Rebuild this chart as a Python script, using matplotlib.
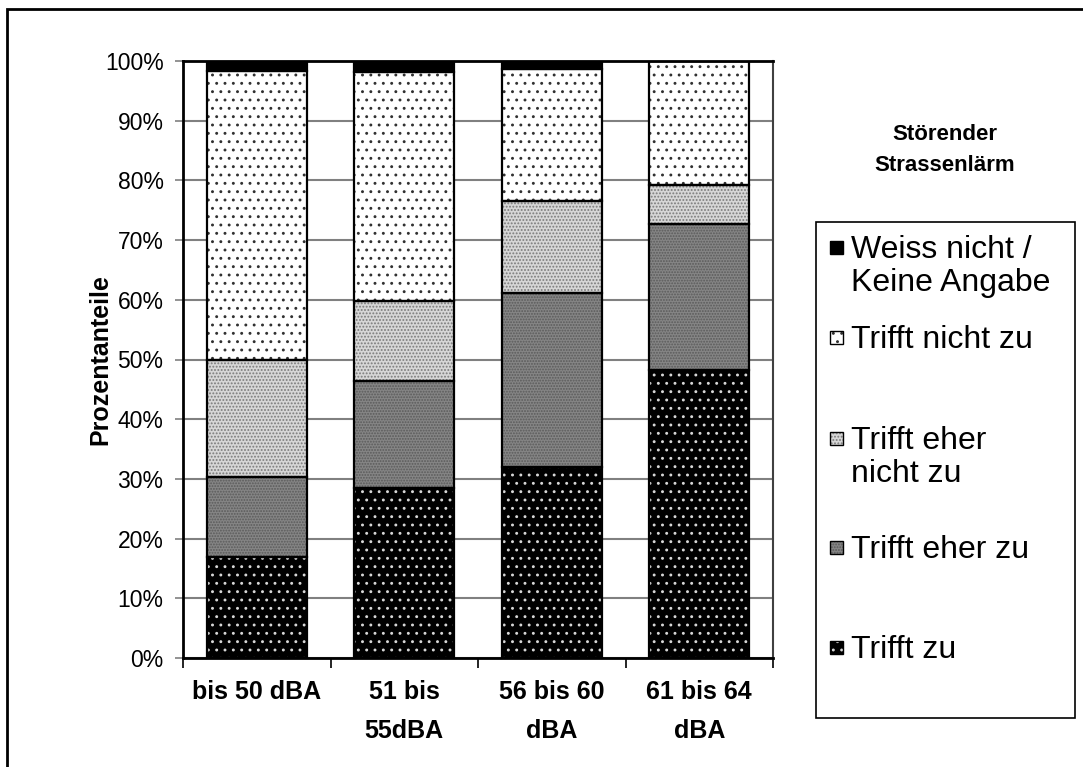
import numpy as np
import matplotlib
matplotlib.use("Agg")
import matplotlib.pyplot as plt
from matplotlib.patches import Rectangle

plt.rcParams['font.family'] = ['Liberation Sans', 'DejaVu Sans']
plt.rcParams['hatch.linewidth'] = 0.9

# Data (percent shares, bottom to top)
CATEGORIES = ["bis 50 dBA", "51 bis\n55dBA", "56 bis 60\ndBA", "61 bis 64\ndBA"]
TRIFFT_ZU        = [16.9, 28.5, 32.0, 48.2]
TRIFFT_EHER_ZU   = [13.4, 17.9, 29.2, 24.5]
EHER_NICHT_ZU    = [19.6, 13.4, 15.4, 6.6]
TRIFFT_NICHT_ZU  = [48.5, 38.3, 22.0, 20.7]
WEISS_NICHT      = [1.6, 1.9, 1.4, 0.0]
SERIES_LABELS = ["Trifft zu", "Trifft eher zu", "Trifft eher\nnicht zu",
                 "Trifft nicht zu", "Weiss nicht /\nKeine Angabe"]
Y_TICKS = np.arange(0, 101, 10)

# Style per series: face colour, hatch colour, hatch
STYLES = [
    ("#000000", "#d8d8d8", ".."),
    ("#858585", "#5a5a5a", "......"),
    ("#d6d6d6", "#7a7a7a", "....."),
    ("#ffffff", "#303030", ".."),
    ("#000000", "#000000", None),
]

fig = plt.figure(figsize=(10.83, 7.67), dpi=100)
ax = fig.add_axes([183/1083, 1 - 658/767, 590/1083, 597/767])

series = [TRIFFT_ZU, TRIFFT_EHER_ZU, EHER_NICHT_ZU, TRIFFT_NICHT_ZU, WEISS_NICHT]
x = np.arange(len(CATEGORIES))
bottom = np.zeros(len(CATEGORIES))
for values, (face, hcol, hatch) in zip(series, STYLES):
    values = np.array(values)
    ax.bar(x, values, 0.68, bottom=bottom, color=face, edgecolor=hcol,
           hatch=hatch, linewidth=0, zorder=2)
    ax.bar(x, values, 0.68, bottom=bottom, fill=False, edgecolor="black",
           linewidth=1.6, zorder=3)
    bottom += values

ax.set_xlim(-0.5, len(CATEGORIES) - 0.5)
ax.set_ylim(0, 100)
ax.set_yticks(Y_TICKS)
ax.set_yticklabels([f"{v}%" for v in Y_TICKS], fontsize=16.5)
ax.yaxis.grid(True, color="#808080", linewidth=1.5, zorder=0)
ax.tick_params(axis="y", length=6, width=1.2, color="#808080", pad=8)

ax.set_xticks(x)
ax.set_xticklabels(CATEGORIES, fontsize=18, fontweight="bold", linespacing=1.8)
ax.set_xticks(np.arange(-0.5, len(CATEGORIES)), minor=True)
ax.tick_params(axis="x", which="major", length=0, pad=16)
ax.tick_params(axis="x", which="minor", length=7, width=1.2, color="black")

for side in ["left", "bottom", "top"]:
    ax.spines[side].set_linewidth(2)
    ax.spines[side].set_color("black")
ax.spines["right"].set_linewidth(1.5)
ax.spines["right"].set_color("#404040")

ax.set_ylabel("Prozentanteile", fontsize=18, fontweight="bold")
ax.yaxis.set_label_coords(-0.12, 0.5)

# Figure frame
fig.add_artist(Rectangle((7/1083, -0.1), 1.2, 1.1 - 9/767,
                         transform=fig.transFigure, fill=False,
                         edgecolor="black", linewidth=2))

# Legend (drawn by hand to match the Excel layout)
fig.text(945/1083, 1 - 150/767, "Störender\nStrassenlärm", ha="center",
         va="center", fontsize=16, fontweight="bold", linespacing=1.6)
fig.add_artist(Rectangle((816/1083, 1 - 718/767), 259/1083, 496/767,
                         transform=fig.transFigure, fill=False,
                         edgecolor="black", linewidth=1.2))
entry_y = [647, 547, 438, 337, 247]
for label, (face, hcol, hatch), ey in zip(SERIES_LABELS, STYLES, entry_y):
    fig.add_artist(Rectangle((830/1083, 1 - (ey + 7)/767), 13/1083, 13/767,
                             transform=fig.transFigure, facecolor=face,
                             edgecolor=hcol, hatch=hatch, linewidth=0))
    fig.add_artist(Rectangle((830/1083, 1 - (ey + 7)/767), 13/1083, 13/767,
                             transform=fig.transFigure, fill=False,
                             edgecolor="black", linewidth=1))
    fig.text(851/1083, 1 - (ey - 12)/767, label, ha="left", va="top",
             fontsize=23, linespacing=1.15)

fig.savefig("out.png", dpi=100)
